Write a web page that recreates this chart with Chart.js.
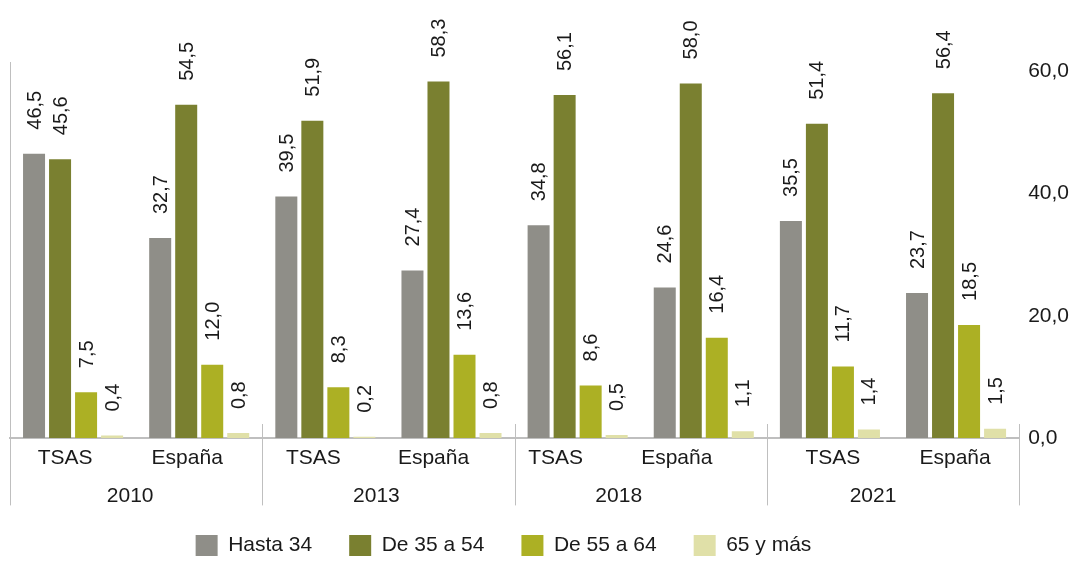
<!DOCTYPE html>
<html lang="es">
<head>
<meta charset="utf-8">
<script src="https://cdn.jsdelivr.net/npm/chart.js@4"></script>
<style>
  html, body { margin: 0; padding: 0; background: #fff; overflow: hidden; }
  #wrap { position: relative; width: 1076px; height: 562px; }
</style>
</head>
<body>
<div id="wrap"><canvas id="ageChart"></canvas></div>
<script>
// --- DATOS ---
const years = ['2010', '2013', '2018', '2021'];
const groups = ['TSAS', 'España', 'TSAS', 'España', 'TSAS', 'España', 'TSAS', 'España'];
const seriesNames = ['Hasta 34', 'De 35 a 54', 'De 55 a 64', '65 y más'];
const hasta34 = [46.5, 32.7, 39.5, 27.4, 34.8, 24.6, 35.5, 23.7];
const de35a54 = [45.6, 54.5, 51.9, 58.3, 56.1, 58.0, 51.4, 56.4];
const de55a64 = [7.5, 12.0, 8.3, 13.6, 8.6, 16.4, 11.7, 18.5];
const mas65 = [0.4, 0.8, 0.2, 0.8, 0.5, 1.1, 1.4, 1.5];
const yTicks = [0, 20, 40, 60];

// --- ESTILO ---
const colors = ['#8f8e88', '#7a8030', '#acb024', '#e0e0a8'];
const textColor = '#1a1a1a';
const fontFamily = "'Liberation Sans', Arial, sans-serif";
// desplazamiento horizontal de las etiquetas del eje (como en el original)
const groupLabelShift = [-8, -12, -12, -18, -22, -27, 3, -1];
const yearLabelShift = [-6, -12, -22, -20];

const fmt = (v) => v.toFixed(1).replace('.', ',');

// etiquetas de valor giradas encima de cada barra
const valueLabels = {
    id: 'valueLabels',
    afterDatasetsDraw(chart) {
        const ctx = chart.ctx;
        ctx.save();
        ctx.font = `20px ${fontFamily}`;
        ctx.fillStyle = textColor;
        ctx.textAlign = 'left';
        ctx.textBaseline = 'middle';
        chart.data.datasets.forEach((ds, di) => {
            chart.getDatasetMeta(di).data.forEach((bar, i) => {
                ctx.save();
                ctx.translate(bar.x + 1, bar.y - 24);
                ctx.rotate(-Math.PI / 2);
                ctx.fillText(fmt(ds.data[i]), 0, 0);
                ctx.restore();
            });
        });
        ctx.restore();
    }
};

// líneas separadoras de los años y línea vertical izquierda
const separators = {
    id: 'separators',
    afterDraw(chart) {
        const {ctx, chartArea} = chart;
        const x2 = chart.scales.x2;
        const step = chartArea.width / years.length;
        ctx.save();
        ctx.strokeStyle = '#bfbfbf';
        ctx.lineWidth = 1;
        for (let i = 0; i <= years.length; i++) {
            const x = Math.round(chartArea.left + i * step) + 0.5;
            ctx.beginPath();
            ctx.moveTo(x, i === 0 ? chartArea.top : chartArea.bottom - 14);
            ctx.lineTo(x, x2.bottom - 7);
            ctx.stroke();
        }
        ctx.restore();
    }
};

// leyenda: mover a la posición del original
const legendShift = {
    id: 'legendShift',
    afterLayout(chart) {
        const lg = chart.legend;
        const dx = 503.5 - (lg.left + lg.right) / 2;
        lg.left += dx;
        lg.right += dx;
        lg.top -= 14.4;
        lg.bottom -= 14.4;
    }
};

// etiquetas de categoría: solo se mueve el texto, no las barras
const tickShift = {
    id: 'tickShift',
    afterDatasetsUpdate(chart) {
        const patch = (scale, shifts) => {
            const base = Object.getPrototypeOf(scale).getPixelForTick;
            scale.getPixelForTick = function (i) {
                return base.call(this, i) + (shifts[i] || 0);
            };
        };
        patch(chart.scales.x, groupLabelShift);
        patch(chart.scales.x2, yearLabelShift);
    }
};

Chart.defaults.font.family = fontFamily;
Chart.defaults.color = textColor;

const ctx = document.getElementById('ageChart').getContext('2d');
const ageChart = new Chart(ctx, {
    type: 'bar',
    data: {
        labels: groups,
        datasets: [hasta34, de35a54, de55a64, mas65].map((data, i) => ({
            label: seriesNames[i],
            data: data,
            backgroundColor: colors[i],
            borderWidth: 0,
            xAxisID: 'x',
            yAxisID: 'y',
            categoryPercentage: 0.825,
            barPercentage: 0.846
        }))
    },
    options: {
        responsive: true,
        maintainAspectRatio: false,
        animation: false,
        layout: { padding: { top: 62, right: -2, left: 10, bottom: -18.4 } },
        plugins: {
            legend: {
                position: 'bottom',
                labels: {
                    boxWidth: 22,
                    boxHeight: 21,
                    padding: 37,
                    font: { size: 21 },
                    color: textColor
                }
            },
            tooltip: { enabled: false }
        },
        scales: {
            x: {
                type: 'category',
                grid: { display: false, drawTicks: false },
                border: { display: true, color: '#bfbfbf', width: 2 },
                ticks: { font: { size: 21 }, padding: 8, maxRotation: 0, autoSkip: false, color: textColor }
            },
            x2: {
                type: 'category',
                labels: years,
                position: 'bottom',
                offset: true,
                grid: { display: false, drawTicks: false },
                border: { display: false },
                ticks: { font: { size: 21 }, padding: 4, maxRotation: 0, autoSkip: false, color: textColor }
            },
            y: {
                position: 'right',
                min: 0,
                max: 61.5,
                afterBuildTicks: (scale) => { scale.ticks = yTicks.map(v => ({ value: v })); },
                grid: { display: false, drawTicks: false },
                border: { display: false },
                ticks: { font: { size: 21 }, padding: 9, color: textColor, callback: (v) => fmt(v) }
            }
        }
    },
    plugins: [valueLabels, separators, legendShift, tickShift]
});
</script>
</body>
</html>
